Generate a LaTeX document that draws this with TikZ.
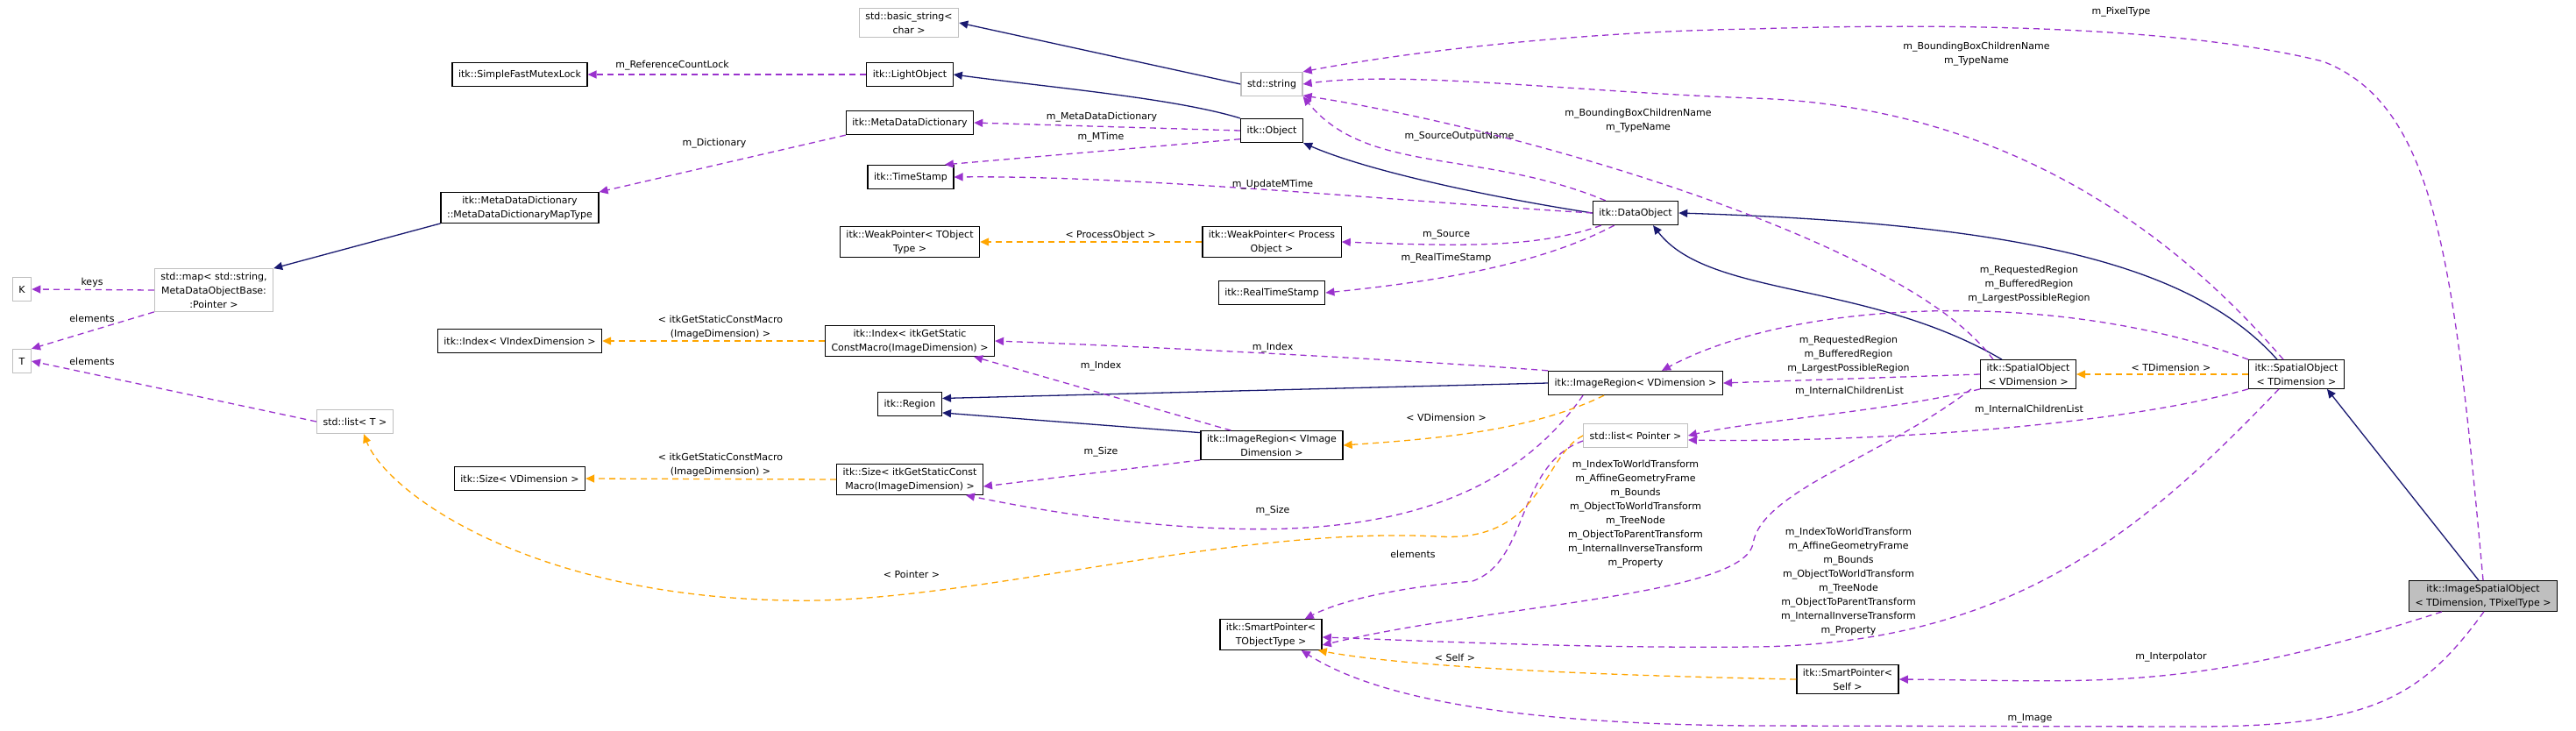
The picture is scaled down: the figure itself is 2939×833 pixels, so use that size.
\documentclass[tikz,border=0pt]{standalone}
\usepackage{fontspec}
\setmainfont{DejaVu Sans}
\usetikzlibrary{arrows.meta}
\definecolor{inhblue}{HTML}{191970}
\definecolor{usepurple}{HTML}{9A32CD}
\definecolor{tplorange}{HTML}{FFA500}
\definecolor{boxgray}{HTML}{BFBFBF}
\tikzset{
  cls/.style={draw=black, line width=1.3pt, fill=white, align=center,
    inner xsep=7pt, inner ysep=4pt, minimum height=27pt,
    font=\fontsize{11}{16}\selectfont},
  ext/.style={cls, draw=boxgray},
  hl/.style={cls, fill=boxgray},
  lbl/.style={align=center, inner sep=1pt, font=\fontsize{11}{16}\selectfont},
  tip/.style={-{Triangle[length=10pt,width=9pt]}},
  inh/.style={tip, draw=inhblue, line width=1.3pt},
  use/.style={tip, draw=usepurple, line width=1.3pt, dash pattern=on 7pt off 5pt},
  tpl/.style={tip, draw=tplorange, line width=1.3pt, dash pattern=on 7pt off 5pt},
}
\begin{document}
\begin{tikzpicture}[x=1pt,y=-1pt]
\useasboundingbox (0,0) rectangle (2939,833);
% classes
\node[ext] (bstr) at (1037,26) {std::basic\_string\textless\\char \textgreater};
\node[cls] (sfml) at (593,85) {itk::SimpleFastMutexLock};
\node[cls] (lobj) at (1038,85) {itk::LightObject};
\node[cls] (mdd) at (1038,140) {itk::MetaDataDictionary};
\node[cls] (tstamp) at (1039,202) {itk::TimeStamp};
\node[cls] (wpt) at (1038,276) {itk::WeakPointer\textless{} TObject\\Type \textgreater};
\node[cls] (mtype) at (593,237) {itk::MetaDataDictionary\\::MetaDataDictionaryMapType};
\node[ext] (smap) at (244,331) {std::map\textless{} std::string,\\MetaDataObjectBase:\\:Pointer \textgreater};
\node[ext] (kk) at (25,330) {K};
\node[ext] (tt) at (25,412) {T};
\node[cls] (idxv) at (593,389) {itk::Index\textless{} VIndexDimension \textgreater};
\node[cls] (idxg) at (1038,389) {itk::Index\textless{} itkGetStatic\\ConstMacro(ImageDimension) \textgreater};
\node[ext] (sstr) at (1451,96) {std::string};
\node[cls] (obj) at (1451,149) {itk::Object};
\node[cls] (dobj) at (1866,243) {itk::DataObject};
\node[cls] (wpp) at (1451,276) {itk::WeakPointer\textless{} Process\\Object \textgreater};
\node[cls] (rts) at (1451,334) {itk::RealTimeStamp};
\node[cls] (region) at (1038,461) {itk::Region};
\node[cls] (irvi) at (1451,508) {itk::ImageRegion\textless{} VImage\\Dimension \textgreater};
\node[cls] (sizev) at (593,546) {itk::Size\textless{} VDimension \textgreater};
\node[cls] (sizeg) at (1038,547) {itk::Size\textless{} itkGetStaticConst\\Macro(ImageDimension) \textgreater};
\node[cls] (irv) at (1866,437) {itk::ImageRegion\textless{} VDimension \textgreater};
\node[ext] (lstp) at (1866,497) {std::list\textless{} Pointer \textgreater};
\node[ext] (lstt) at (405,481) {std::list\textless{} T \textgreater};
\node[cls] (spt) at (1450,724) {itk::SmartPointer\textless\\TObjectType \textgreater};
\node[cls] (sov) at (2314,427) {itk::SpatialObject\\\textless{} VDimension \textgreater};
\node[cls] (sot) at (2620,427) {itk::SpatialObject\\\textless{} TDimension \textgreater};
\node[cls] (sps) at (2108,775) {itk::SmartPointer\textless\\Self \textgreater};
\node[hl] (iso) at (2833,680) {itk::ImageSpatialObject\\\textless{} TDimension, TPixelType \textgreater};
% inheritance
\draw[inh] (sstr.west) -- (bstr.east);
\draw[inh] (obj.north west) .. controls (1340,112) and (1200,100) .. (lobj.east);
\draw[inh] (dobj.west) .. controls (1700,225) and (1560,195) .. (obj.south east);
\draw[inh] (mtype.south west) -- (smap.north east);
\draw[inh] ([xshift=25pt]sov.north west) .. controls (2130,320) and (1950,340) .. ([xshift=20pt]dobj.south);
\draw[inh] ([xshift=33pt]sot.north west) .. controls (2500,300) and (2300,255) .. (dobj.east);
\draw[inh] (irv.west) -- (region.10);
\draw[inh] (irvi.170) -- (region.-15);
\draw[inh] ([xshift=80pt]iso.north west) -- ([xshift=90pt]sot.south west);
% members
\draw[use] (lobj.west) -- (sfml.east);
\node[lbl] (l1) at (767,75) {m\_ReferenceCountLock};
\draw[use] (obj.west) -- (mdd.east);
\node[lbl] (l2) at (1257,134) {m\_MetaDataDictionary};
\draw[use] (obj.195) -- (tstamp.20);
\node[lbl] (l3) at (1256,157) {m\_MTime};
\draw[use] (dobj.west) .. controls (1600,230) and (1300,200) .. (tstamp.east);
\node[lbl] (l4) at (1452,211) {m\_UpdateMTime};
\draw[use] (mdd.south west) -- (mtype.north east);
\node[lbl] (l5) at (815,164) {m\_Dictionary};
\draw[use] (smap.west) -- (kk.east);
\node[lbl] (l6) at (105,322) {keys};
\draw[use] (smap.south west) -- (tt.north east);
\node[lbl] (l7) at (105,363) {elements};
\draw[use] (lstt.west) -- (tt.east);
\node[lbl] (l8) at (105,412) {elements};
\draw[use] ([xshift=15pt]dobj.north west) .. controls (1690,170) and (1560,200) .. (sstr.south east);
\node[lbl] (l9) at (1665,156) {m\_SourceOutputName};
\draw[use] ([xshift=10pt]dobj.south west) .. controls (1750,285) and (1650,280) .. (wpp.east);
\node[lbl] (l10) at (1650,268) {m\_Source};
\draw[use] ([xshift=25pt]dobj.south west) .. controls (1760,300) and (1650,320) .. (rts.east);
\node[lbl] (l11) at (1650,295) {m\_RealTimeStamp};
\draw[use] (irv.north west) .. controls (1600,410) and (1300,395) .. (idxg.east);
\node[lbl] (l12) at (1452,397) {m\_Index};
\draw[use] ([xshift=35pt]irvi.north west) -- ([xshift=-24pt]idxg.south east);
\node[lbl] (l13) at (1256,418) {m\_Index};
\draw[use] (irvi.south west) -- ([yshift=-8pt]sizeg.east);
\node[lbl] (l14) at (1256,516) {m\_Size};
\draw[use] ([xshift=40pt]irv.south west) .. controls (1730,560) and (1600,610) .. (1400,603) .. controls (1300,600) and (1200,585) .. ([xshift=-20pt]sizeg.south east);
\node[lbl] (l15) at (1452,583) {m\_Size};
\draw[use] (sov.west) -- (irv.east);
\node[lbl] (l16) at (2109,405) {m\_RequestedRegion\\m\_BufferedRegion\\m\_LargestPossibleRegion};
\draw[use] (sot.north west) .. controls (2350,330) and (2050,340) .. ([xshift=30pt]irv.north);
\node[lbl] (l17) at (2315,325) {m\_RequestedRegion\\m\_BufferedRegion\\m\_LargestPossibleRegion};
\draw[use] (sov.south west) .. controls (2150,470) and (2000,480) .. (lstp.east);
\node[lbl] (l18) at (2110,447) {m\_InternalChildrenList};
\draw[use] (sot.south west) .. controls (2400,490) and (2100,505) .. ([yshift=-5pt]lstp.east);
\node[lbl] (l19) at (2315,468) {m\_InternalChildrenList};
\draw[use] ([yshift=-6pt]lstp.west) .. controls (1730,530) and (1745,640) .. (1680,663) .. controls (1620,668) and (1540,680) .. ([xshift=-20pt]spt.north east);
\node[lbl] (l20) at (1612,632) {elements};
\draw[use] ([xshift=-10pt]sov.south west) .. controls (2150,520) and (2010,560) .. (2000,620) .. controls (1990,680) and (1700,690) .. ([yshift=-12pt]spt.east);
\node[lbl] (l21) at (1866,587) {m\_IndexToWorldTransform\\m\_AffineGeometryFrame\\m\_Bounds\\m\_ObjectToWorldTransform\\m\_TreeNode\\m\_ObjectToParentTransform\\m\_InternalInverseTransform\\m\_Property};
\draw[use] ([xshift=-20pt]sot.south) .. controls (2450,600) and (2300,735) .. (2000,738) .. controls (1800,740) and (1600,730) .. ([yshift=-3pt]spt.east);
\node[lbl] (l22) at (2109,664) {m\_IndexToWorldTransform\\m\_AffineGeometryFrame\\m\_Bounds\\m\_ObjectToWorldTransform\\m\_TreeNode\\m\_ObjectToParentTransform\\m\_InternalInverseTransform\\m\_Property};
\draw[use] ([xshift=38pt]iso.south west) .. controls (2500,790) and (2400,777) .. (sps.east);
\node[lbl] (l23) at (2477,750) {m\_Interpolator};
\draw[use] ([xshift=86pt]iso.south west) .. controls (2760,800) and (2700,829) .. (2500,829) -- (2000,828) .. controls (1700,826) and (1560,790) .. ([xshift=-24pt]spt.south east);
\node[lbl] (l24) at (2316,820) {m\_Image};
\draw[use] (iso.north) .. controls (2800,300) and (2780,120) .. (2650,70) .. controls (2450,20) and (2100,30) .. (2000,33) .. controls (1800,36) and (1600,60) .. (sstr.north east);
\node[lbl] (l25) at (2420,14) {m\_PixelType};
\draw[use] ([xshift=-15pt]sot.north) .. controls (2450,230) and (2250,120) .. (2000,112) .. controls (1800,105) and (1600,80) .. (sstr.east);
\node[lbl] (l26) at (2255,62) {m\_BoundingBoxChildrenName\\m\_TypeName};
\draw[use] ([xshift=15pt]sov.north west) .. controls (2180,280) and (1750,150) .. (sstr.-20);
\node[lbl] (l27) at (1869,138) {m\_BoundingBoxChildrenName\\m\_TypeName};
% template instances
\draw[tpl] (wpp.west) -- (wpt.east);
\node[lbl] (l28) at (1267,268) {\textless{} ProcessObject \textgreater};
\draw[tpl] (idxg.west) -- (idxv.east);
\node[lbl] (l29) at (822,373) {\textless{} itkGetStaticConstMacro\\(ImageDimension) \textgreater};
\draw[tpl] (sizeg.west) -- (sizev.east);
\node[lbl] (l30) at (822,530) {\textless{} itkGetStaticConstMacro\\(ImageDimension) \textgreater};
\draw[tpl] ([xshift=64pt]irv.south west) .. controls (1750,490) and (1650,500) .. (irvi.east);
\node[lbl] (l31) at (1650,476) {\textless{} VDimension \textgreater};
\draw[tpl] (sot.west) -- (sov.east);
\node[lbl] (l32) at (2477,419) {\textless{} TDimension \textgreater};
\draw[tpl] (sps.west) .. controls (1800,770) and (1600,760) .. ([xshift=-5pt]spt.south east);
\node[lbl] (l33) at (1660,750) {\textless{} Self \textgreater};
\draw[tpl] (lstp.west) .. controls (1760,520) and (1760,620) .. (1640,612) .. controls (1400,600) and (1100,690) .. (900,685) .. controls (600,680) and (440,560) .. ([xshift=10pt]lstt.south);
\node[lbl] (l34) at (1040,655) {\textless{} Pointer \textgreater};
\end{tikzpicture}
\end{document}
